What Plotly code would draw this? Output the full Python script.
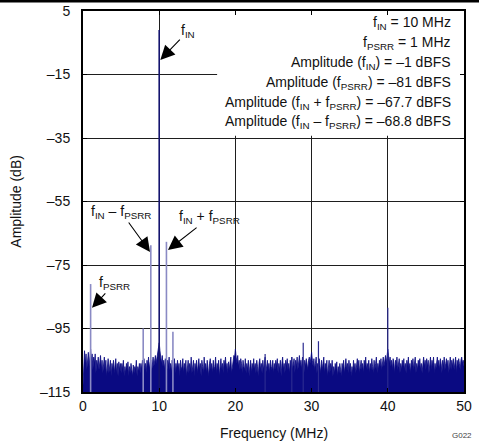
import numpy as np
import plotly.graph_objects as go

# ---------------- data ----------------
# noise-floor amplitudes (dB), one value every 0.1 MHz from 0 to 50 MHz
noise_db = [
    -113, -104, -102, -106, -103, -108, -105, -102.5, -107, -104, -101.5, -105, -103, -108, -104, -106, -103, -109, -105, -107, -104, -108, -106, -103.5, -108,
    -105, -109, -106, -104, -108, -105, -110, -106, -104.5, -109, -107, -105, -110, -106, -108, -105, -109, -107, -104.5, -109, -106, -110, -105.5, -108, -106,
    -109, -106, -108, -105, -110, -107, -109, -106, -108, -105.5, -110, -107, -109, -106, -108, -110, -106.5, -109, -107, -108, -105, -110, -107, -108.5, -106,
    -109, -106, -108, -105, -107, -104.5, -108, -106, -109, -105, -107, -104, -108, -106, -105, -109, -106, -104, -107, -105, -103.5, -106, -104, -102, -101,
    -99.5, -102, -104, -106, -103.5, -107, -105, -108, -104.5, -106, -109, -105, -107, -104, -108, -106, -109, -105, -107, -108, -104.5, -109, -106, -108, -105,
    -108, -106, -110, -105, -108, -107, -104.5, -109, -106, -108, -105, -110, -107, -105, -109, -106, -108, -104, -109, -107, -105, -110, -106, -108, -105,
    -109, -106, -104.5, -108, -106, -110, -105, -107, -109, -104, -108, -106, -109, -105, -107, -110, -106, -104.5, -108, -106, -109, -105, -108, -107, -104,
    -109, -106, -108, -105, -110, -107, -104.5, -108, -106, -109, -105, -107, -104, -108, -106, -109, -105.5, -108, -106, -104, -109, -107, -105, -103.5, -104,
    -101.5, -104, -106, -103.5, -107, -105, -108, -104.5, -106, -109, -105, -107, -108, -104.5, -109, -106, -108, -105, -110, -107, -105, -109, -106, -108, -104.5,
    -108, -106, -109, -105, -107, -110, -106, -104.5, -108, -106, -109, -105, -108, -106, -104, -109, -107, -105, -108, -106, -109, -105, -107, -108, -105,
    -109, -106, -108, -105, -107, -104.5, -109, -106, -108, -105, -110, -106, -104, -108, -106, -109, -105, -107, -104.5, -108, -106, -109, -105, -107, -104,
    -108, -106, -104.5, -109, -105, -107, -104, -108, -106, -103.5, -107, -105, -108, -104, -106, -109, -105, -107, -104.5, -106, -108, -105, -104, -106, -104,
    -102.5, -105, -107, -104.5, -108, -106, -104, -109, -106, -108, -104.5, -107, -109, -105, -108, -106, -104, -109, -106, -108, -105, -110, -107, -105, -109,
    -106, -108, -105, -110, -107, -109, -106, -108, -105.5, -110, -107, -109, -106, -108, -110, -106, -108, -105, -109, -107, -104.5, -108, -106, -109, -105,
    -108, -106, -110, -107, -109, -105, -108, -106, -109, -106, -104.5, -108, -105, -109, -107, -105, -108, -106, -109, -105, -107, -104, -108, -106, -108,
    -105, -109, -106, -108, -104.5, -107, -109, -105, -108, -106, -104, -109, -106, -108, -105, -107, -104.5, -108, -106, -104, -107, -105, -103.5, -106, -104,
    -101.5, -103.5, -106, -104, -107, -105, -108, -104.5, -106, -109, -105, -107, -104, -108, -106, -104.5, -109, -106, -108, -105, -107, -104.5, -108, -106, -109,
    -105, -107, -104, -108, -106, -109, -105, -107, -104.5, -108, -106, -104, -109, -106, -108, -105, -107, -104.5, -108, -106, -109, -105, -104, -107, -105,
    -108, -104.5, -107, -105, -109, -106, -104, -108, -105, -107, -104, -109, -106, -108, -105, -104, -107, -105, -108, -104.5, -106, -109, -105, -107, -104,
    -108, -106, -104.5, -107, -105, -109, -106, -104, -108, -105, -107, -104.5, -108, -106, -104, -109, -105, -107, -104.5, -106, -108, -105, -104, -106, -105,
    -107,
]
noise_freq = np.round(np.arange(len(noise_db)) * 0.1, 1)

# tall tones (light lines)
tone_freq = [1.0, 7.9, 8.9, 10.95, 11.8]
tone_db = [-81, -95, -68.8, -67.7, -96]

# smaller spurs inside the noise floor
spur_freq = [23.9, 27.4, 28.9, 30.9, 40.0]
spur_db = [-103, -104, -99.5, -99, -88.5]

# fundamental
fin_freq = [10.0]
fin_db = [-1]

floor_db = -115
x_ticks = [0, 10, 20, 30, 40, 50]
y_ticks = [5, -15, -35, -55, -75, -95, -115]
y_ticktext = ["5", "–15", "–35", "–55", "–75", "–95", "–115"]

info_lines = [
    "f<sub>IN</sub> = 10 MHz",
    "f<sub>PSRR</sub> = 1 MHz",
    "Amplitude (f<sub>IN</sub>) = –1 dBFS",
    "Amplitude (f<sub>PSRR</sub>) = –81 dBFS",
    "Amplitude (f<sub>IN</sub> + f<sub>PSRR</sub>) = –67.7 dBFS",
    "Amplitude (f<sub>IN</sub> – f<sub>PSRR</sub>) = –68.8 dBFS",
]
info_y = [1.2, -5.1, -11.4, -17.7, -24.0, -30.1]

FONT = "Arial, Liberation Sans, Helvetica, sans-serif"


def stems(freqs, amps):
    xs, ys = [], []
    for f, a in zip(freqs, amps):
        xs += [f, f, None]
        ys += [floor_db, a, None]
    return xs, ys


fig = go.Figure()

# noise floor (filled down to -115)
fig.add_trace(go.Scatter(x=list(noise_freq), y=[floor_db] * len(noise_freq), mode="lines",
                         line=dict(width=0, color="#0a0a82"), showlegend=False, hoverinfo="skip"))
fig.add_trace(go.Scatter(x=list(noise_freq), y=noise_db, mode="lines", fill="tonexty",
                         fillcolor="#0a0a82", line=dict(width=0.8, color="#0a0a82"),
                         showlegend=False))

sx, sy = stems(spur_freq, spur_db)
fig.add_trace(go.Scatter(x=sx, y=sy, mode="lines", line=dict(width=1.2, color="#2a2a90"),
                         showlegend=False))

tx, ty = stems(tone_freq, tone_db)
fig.add_trace(go.Scatter(x=tx, y=ty, mode="lines", line=dict(width=1.6, color="#8a8ac4"),
                         showlegend=False))

fx, fy = stems(fin_freq, fin_db)
fig.add_trace(go.Scatter(x=fx, y=fy, mode="lines", line=dict(width=1.6, color="#14146e"),
                         showlegend=False))

# white box behind the info text (hides grid)
fig.add_shape(type="rect", xref="x", yref="y", x0=17.6, x1=50, y0=-34.3, y1=5,
              fillcolor="white", line=dict(width=0), layer="between")

# top rule across the whole image
fig.add_shape(type="rect", xref="paper", yref="paper", x0=-0.25, x1=1.06, y0=1.0225, y1=1.029,
              fillcolor="black", line=dict(width=0), layer="above")

annotations = []
for txt, yv in zip(info_lines, info_y):
    annotations.append(dict(x=48.55, y=yv, xref="x", yref="y", text=txt, showarrow=False,
                            xanchor="right", yanchor="middle",
                            font=dict(family=FONT, size=14, color="#111")))

arrow_style = dict(showarrow=True, arrowhead=2, arrowsize=2.6, arrowwidth=1.1,
                   arrowcolor="black", font=dict(family=FONT, size=14, color="#111"))
annotations += [
    dict(x=10.15, y=-10.4, xref="x", yref="y", text="f<sub>IN</sub>", ax=28, ay=-29, **arrow_style),
    dict(x=8.8, y=-70.9, xref="x", yref="y", text="f<sub>IN</sub> – f<sub>PSRR</sub>", ax=-29, ay=-40, **arrow_style),
    dict(x=11.15, y=-70.3, xref="x", yref="y", text="f<sub>IN</sub> + f<sub>PSRR</sub>", ax=42, ay=-33, **arrow_style),
    dict(x=1.18, y=-88.5, xref="x", yref="y", text="f<sub>PSRR</sub>", ax=23, ay=-25, **arrow_style),
]

annotations += [
    dict(x=-0.178, y=0.5, xref="paper", yref="paper", text="Amplitude (dB)", textangle=-90,
         showarrow=False, xanchor="center", yanchor="middle", font=dict(family=FONT, size=14, color="#111")),
    dict(x=0.502, y=-0.1076, xref="paper", yref="paper", text="Frequency (MHz)",
         showarrow=False, xanchor="center", yanchor="middle", font=dict(family=FONT, size=14, color="#111")),
    dict(x=0.995, y=-0.113, xref="paper", yref="paper", text="G022",
         showarrow=False, xanchor="center", yanchor="middle", font=dict(family=FONT, size=8, color="#444")),
]

axis_common = dict(showline=True, linewidth=2, linecolor="black", mirror="allticks",
                   ticks="inside", ticklen=4, tickwidth=1, tickcolor="black",
                   showgrid=True, gridcolor="#1e1e1e", gridwidth=1, zeroline=False,
                   automargin=False,
                   tickfont=dict(family=FONT, size=14, color="#111"))

fig.update_xaxes(range=[0, 50], tickvals=x_ticks, ticktext=[str(v) for v in x_ticks],
                 **axis_common)
fig.update_yaxes(range=[-115, 5], tickvals=y_ticks, ticktext=y_ticktext,
                 ticklabelstandoff=8, **axis_common)

fig.update_layout(width=479, height=443, autosize=False,
                  margin=dict(l=83, r=15, t=11, b=51, pad=0),
                  paper_bgcolor="white", plot_bgcolor="white", showlegend=False,
                  annotations=annotations, font=dict(family=FONT))

fig.write_html("out.html", config={"displayModeBar": False},
               post_script="document.body.style.margin='0';document.body.style.overflow='hidden';")
